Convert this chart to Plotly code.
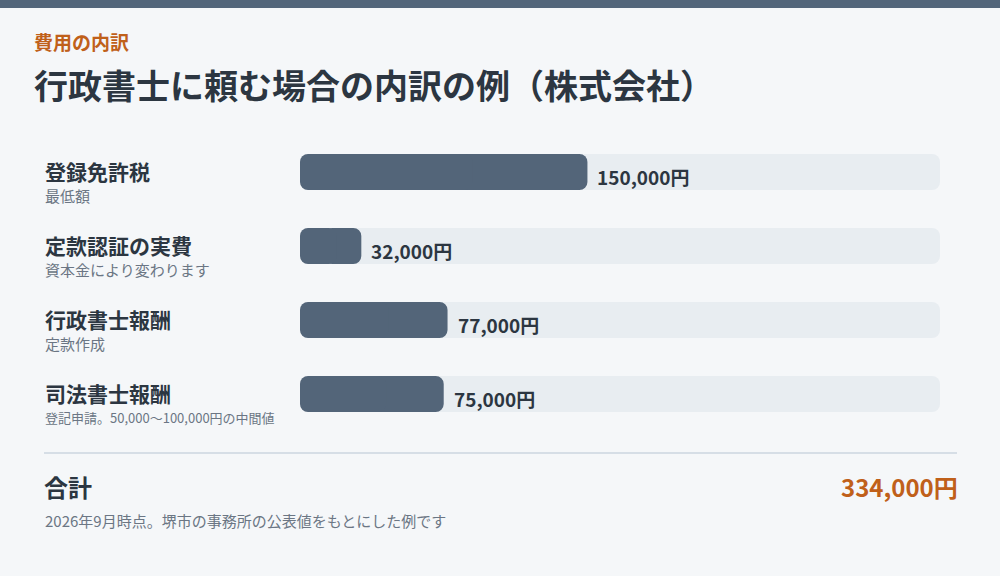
import plotly.graph_objects as go

# 費用の内訳データ
items = ["登録免許税", "定款認証の実費", "行政書士報酬", "司法書士報酬"]
notes = ["最低額", "資本金により変わります", "定款作成", "登記申請。50,000～100,000円の中間値"]
amounts = [150000, 32000, 77000, 75000]
total = sum(amounts)

FONT = "Noto Sans CJK JP"
DARK = "#2c3641"
GRAY = "#6b7684"
ORANGE = "#c0601a"
BAR = "#536579"
TRACK = "#e8edf1"
BG = "#f5f7f9"

W, H = 1000, 576


def rounded_bar(fig, vals, color, hover=True):
    # plotly は先端側しか角を丸めないので、左右から重ねて四隅を丸くする
    right_base = [v * 0.4 for v in vals]
    left_base = [v * 0.6 for v in vals]
    for base, length in ((right_base, [v * 0.6 for v in vals]),
                         (left_base, [-v * 0.6 for v in vals])):
        fig.add_trace(go.Bar(
            y=items, x=length, base=base, orientation="h",
            marker=dict(color=color, cornerradius=8, line=dict(width=0)),
            customdata=vals, hovertemplate="%{y}: %{customdata:,}円<extra></extra>",
            hoverinfo=None if hover else "skip", showlegend=False,
        ))


fig = go.Figure()
rounded_bar(fig, [total] * len(items), TRACK, hover=False)  # 背景トラック
rounded_bar(fig, amounts, BAR)

annotations = []
for name, note, val in zip(items, notes, amounts):
    annotations.append(dict(
        x=val, y=name, xref="x", yref="y", xshift=8, yshift=-4,
        text=f"<b>{val:,}円</b>", showarrow=False, xanchor="left", yanchor="middle",
        font=dict(family=FONT, size=19, color=DARK),
    ))
    annotations.append(dict(
        x=43 / W, y=name, xref="paper", yref="y", yshift=1,
        text=f"<b>{name}</b>", showarrow=False, xanchor="left", yanchor="middle",
        font=dict(family=FONT, size=21, color=DARK),
    ))
    # 長い注記は元図でも詰めて表示されているので小さめに
    annotations.append(dict(
        x=43 / W, y=name, xref="paper", yref="y", yshift=-23,
        text=note, showarrow=False, xanchor="left", yanchor="middle",
        font=dict(family=FONT, size=15 if len(note) < 16 else 13, color=GRAY),
    ))

# 見出し・合計・注記
annotations += [
    dict(x=31.5 / W, y=1 - 42 / H, xref="paper", yref="paper", text="<b>費用の内訳</b>",
         showarrow=False, xanchor="left", yanchor="middle",
         font=dict(family=FONT, size=19, color=ORANGE)),
    dict(x=32 / W, y=1 - 84 / H, xref="paper", yref="paper",
         text="<b>行政書士に頼む場合の内訳の例（株式会社）</b>",
         showarrow=False, xanchor="left", yanchor="middle",
         font=dict(family=FONT, size=34, color=DARK)),
    dict(x=42 / W, y=1 - 486 / H, xref="paper", yref="paper", text="<b>合計</b>",
         showarrow=False, xanchor="left", yanchor="middle",
         font=dict(family=FONT, size=24, color=DARK)),
    dict(x=960 / W, y=1 - 486 / H, xref="paper", yref="paper", text=f"<b>{total:,}円</b>",
         showarrow=False, xanchor="right", yanchor="middle",
         font=dict(family=FONT, size=24, color=ORANGE)),
    dict(x=43 / W, y=1 - 520 / H, xref="paper", yref="paper",
         text="2026年9月時点。堺市の事務所の公表値をもとにした例です",
         showarrow=False, xanchor="left", yanchor="middle",
         font=dict(family=FONT, size=15, color=GRAY)),
]

shapes = [
    dict(type="rect", xref="paper", yref="paper", x0=0, x1=1, y0=1 - 8 / H, y1=1,
         fillcolor="#53667b", line=dict(width=0), layer="below"),
    dict(type="line", xref="paper", yref="paper", x0=44 / W, x1=957 / W,
         y0=1 - 453 / H, y1=1 - 453 / H, line=dict(color="#d6dee6", width=2)),
]

fig.update_layout(
    width=W, height=H,
    margin=dict(l=0, r=0, t=0, b=0),
    paper_bgcolor=BG, plot_bgcolor=BG,
    barmode="overlay", bargap=1 - 36 / 74,
    xaxis=dict(domain=[300 / W, 940 / W], range=[0, total], visible=False, fixedrange=True),
    yaxis=dict(domain=[1 - 431 / H, 1 - 135 / H], range=[3.5, -0.5], visible=False,
               fixedrange=True, type="category"),
    annotations=annotations,
    shapes=shapes,
    font=dict(family=FONT),
)

fig.write_html("out.html", config={"displayModeBar": False},
               post_script="document.body.style.margin='0';")
